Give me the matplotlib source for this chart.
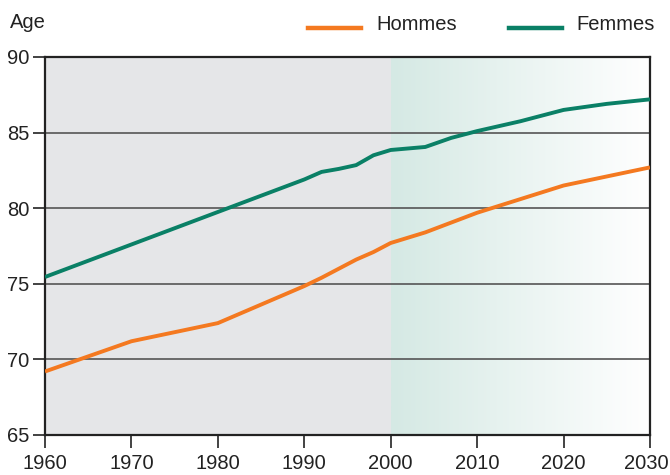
import numpy as np
import matplotlib
matplotlib.use("Agg")
import matplotlib.pyplot as plt
from matplotlib import font_manager
from matplotlib.colors import LinearSegmentedColormap
from matplotlib.transforms import ScaledTranslation

fams = {f.name for f in font_manager.fontManager.ttflist}
FONT = 'Liberation Sans Narrow' if 'Liberation Sans Narrow' in fams else 'Liberation Sans'
plt.rcParams['font.family'] = [FONT, 'DejaVu Sans']

years_h = [1960, 1970, 1980, 1990, 1992, 1994, 1996, 1998, 2000, 2004, 2010, 2015, 2020, 2025, 2030]
hommes  = [69.2, 71.2, 72.4, 74.85, 75.4, 76.0, 76.6, 77.1, 77.7, 78.4, 79.7, 80.6, 81.5, 82.1, 82.7]
years_f = [1960, 1970, 1980, 1990, 1992, 1994, 1996, 1998, 2000, 2004, 2007, 2010, 2015, 2020, 2025, 2030]
femmes  = [75.45, 77.6, 79.75, 81.9, 82.4, 82.6, 82.85, 83.5, 83.85, 84.05, 84.65, 85.1, 85.75, 86.5, 86.9, 87.2]
xticks = [1960, 1970, 1980, 1990, 2000, 2010, 2020, 2030]
yticks = [65, 70, 75, 80, 85, 90]

fig = plt.figure(figsize=(6.7, 4.75), dpi=100)
ax = fig.add_axes([45/670, 1-435/475, 605/670, 378/475])
ax.set_facecolor('#e5e6e8')
ax.set_xlim(1960, 2030)
ax.set_ylim(65, 90)

cmap = LinearSegmentedColormap.from_list('g', ['#d5e9e4', '#ffffff'])
grad = np.linspace(0, 1, 256).reshape(1, -1)
ax.imshow(grad, cmap=cmap, extent=[2000, 2030, 65, 90], aspect='auto', zorder=0.5, interpolation='bilinear')

for v in [70, 75, 80, 85]:
    ax.axhline(v, color='#555555', lw=1.2, zorder=1)

ax.plot(years_h, hommes, color='#f47920', lw=2.8, zorder=3, solid_capstyle='butt')
ax.plot(years_f, femmes, color='#0a8066', lw=2.8, zorder=3, solid_capstyle='butt')

for s in ax.spines.values():
    s.set_linewidth(1.6)
    s.set_color('#222222')
ax.set_xticks(xticks)
ax.set_yticks(yticks)
ax.tick_params(axis='both', direction='out', length=9, width=1.2, color='#222222',
               labelsize=14.5, labelcolor='#222222')
ax.tick_params(axis='x', pad=5)
ax.tick_params(axis='y', pad=2)

# nudge the last x label so it stays inside the figure
last = ax.get_xticklabels()[-1]
last.set_transform(last.get_transform() + ScaledTranslation(-4/100, 0, fig.dpi_scale_trans))

fig.text(10/670, 1-22/475, 'Age', fontsize=14.5, color='#222222', va='center', ha='left')
# legend
fig.add_artist(plt.Line2D([308/670, 361/670], [1-28/475, 1-28/475], color='#f47920', lw=3.2))
fig.text(376/670, 1-25/475, 'Hommes', fontsize=14.5, color='#222222', va='center', ha='left')
fig.add_artist(plt.Line2D([509/670, 562/670], [1-28/475, 1-28/475], color='#0a8066', lw=3.2))
fig.text(576/670, 1-25/475, 'Femmes', fontsize=14.5, color='#222222', va='center', ha='left')

fig.savefig('out.png', dpi=100)
